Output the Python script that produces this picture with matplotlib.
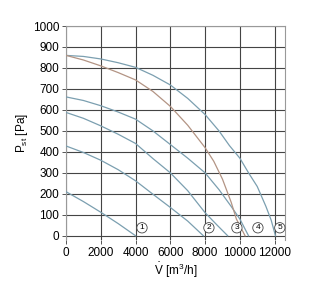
import matplotlib.pyplot as plt

plt.rcParams['font.family'] = ['Liberation Sans', 'DejaVu Sans']

# curves (V in m3/h, P in Pa)
v1 = [0, 1000, 2000, 3000, 4000]
p1 = [210, 163, 112, 58, 0]
v2 = [0, 1000, 2000, 3000, 4000, 5000, 6000, 7000, 7900]
p2 = [428, 397, 360, 315, 262, 198, 135, 70, 0]
v3 = [0, 1000, 2000, 3000, 4000, 5000, 6000, 7000, 8000, 8700, 9300]
p3 = [588, 560, 524, 484, 440, 368, 300, 215, 110, 50, 0]
v4 = [0, 1000, 2000, 3000, 4000, 5000, 6000, 7000, 8000, 8800, 9500, 10000, 10500]
p4 = [662, 645, 620, 590, 556, 500, 435, 370, 300, 220, 140, 80, 0]
v5 = [0, 1000, 2000, 3000, 4000, 5000, 6000, 7000, 8000, 8800, 9400,
      10000, 10500, 11000, 11500, 11800, 12050]
p5 = [860, 855, 843, 825, 803, 765, 719, 655, 578, 500, 430,
      370, 300, 235, 140, 75, 0]
v_max = [0, 1000, 2000, 3000, 4000, 5000, 6000, 7000, 8000, 8500, 9000, 9500, 9800, 10300]
p_max = [860, 838, 810, 778, 743, 688, 617, 527, 420, 355, 270, 160, 80, 0]

curve_labels = ['1', '2', '3', '4', '5']
label_v = [4370, 8220, 9830, 11040, 12300]
label_p = [38, 38, 38, 38, 38]

xticks = [0, 2000, 4000, 6000, 8000, 10000, 12000]
yticks = list(range(0, 1001, 100))

fig = plt.figure(figsize=(3.16, 2.86), dpi=100)
ax = fig.add_axes([0.209, 0.161, 0.693, 0.748])

blue = '#7b9fb0'
for v, p in [(v1, p1), (v2, p2), (v3, p3), (v4, p4), (v5, p5)]:
    ax.plot(v, p, color=blue, lw=0.9, zorder=3)
ax.plot(v_max, p_max, color='#b39484', lw=0.9, zorder=3)

for t, x, y in zip(curve_labels, label_v, label_p):
    ax.text(x, y, t, ha='center', va='center', fontsize=6, zorder=4,
            bbox=dict(boxstyle='circle,pad=0.2', fc='white', ec='#444444', lw=0.6))

ax.set_xlim(0, 12600)
ax.set_ylim(-20, 1000)
ax.set_xticks(xticks)
ax.set_yticks(yticks)
ax.grid(True, color='#444444', lw=0.8)
ax.tick_params(labelsize=8.5, length=3, width=0.7, color='#555555', pad=2)
for s in ax.spines.values():
    s.set_color('#999999')
    s.set_linewidth(0.8)
ax.spines['bottom'].set_visible(False)

ax.set_ylabel('P$_{\\mathregular{st}}$ [Pa]', fontsize=8.5, labelpad=2)
ax.set_xlabel('$\\dot{\\mathregular{V}}$ [m$^{\\mathregular{3}}$/h]', fontsize=8.5, labelpad=1)

fig.savefig('out.png', dpi=100)
